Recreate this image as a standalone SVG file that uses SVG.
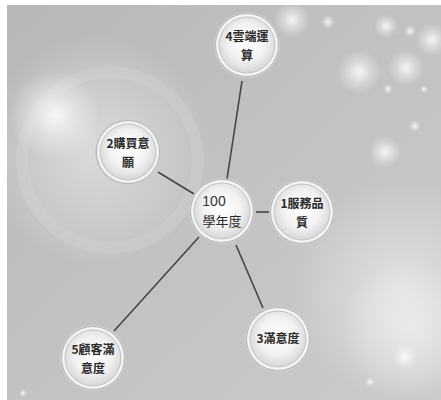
<svg xmlns="http://www.w3.org/2000/svg" width="441" height="400" viewBox="0 0 441 400">
<defs>
<linearGradient id="bg" x1="0" y1="0" x2="1" y2="1">
<stop offset="0" stop-color="#b7b7b7"/>
<stop offset="0.5" stop-color="#c2c2c2"/>
<stop offset="1" stop-color="#cbcbcb"/>
</linearGradient>
<radialGradient id="glow">
<stop offset="0" stop-color="#ffffff" stop-opacity="0.85"/>
<stop offset="0.5" stop-color="#ffffff" stop-opacity="0.35"/>
<stop offset="1" stop-color="#ffffff" stop-opacity="0"/>
</radialGradient>
<radialGradient id="soft">
<stop offset="0" stop-color="#ffffff" stop-opacity="0.45"/>
<stop offset="0.7" stop-color="#ffffff" stop-opacity="0.15"/>
<stop offset="1" stop-color="#ffffff" stop-opacity="0"/>
</radialGradient>
<radialGradient id="nodeFill" cx="0.5" cy="0.45" r="0.55">
<stop offset="0" stop-color="#ffffff"/>
<stop offset="0.6" stop-color="#f2f2f2"/>
<stop offset="1" stop-color="#d6d6d6"/>
</radialGradient>
<g id="nd">
<circle r="33" fill="#cfcfcf"/>
<circle r="31.5" fill="#f4f4f4" stroke="#b5b5b5" stroke-width="1"/>
<circle r="28" fill="url(#nodeFill)" stroke="#c2c2c2" stroke-width="1"/>
</g>
</defs>
<style>
.t{font-family:"Noto Sans CJK TC","Noto Sans CJK SC",sans-serif;font-size:12px;font-weight:bold;fill:#2a2a2a;text-anchor:middle}
.c{stroke:#454545;stroke-width:1.6;fill:none}
</style>
<rect x="0" y="0" width="441" height="400" fill="url(#bg)"/>
<g id="background">
<circle cx="95" cy="150" r="115" fill="url(#soft)"/>
<circle cx="55" cy="115" r="45" fill="url(#glow)"/>
<circle cx="110" cy="160" r="88" fill="none" stroke="#ffffff" stroke-opacity="0.1" stroke-width="12"/>
<circle cx="400" cy="290" r="110" fill="url(#soft)"/>
<circle cx="410" cy="330" r="70" fill="url(#soft)"/>
<circle cx="292" cy="20" r="18" fill="url(#glow)"/>
<circle cx="328" cy="22" r="7" fill="url(#glow)"/>
<circle cx="386" cy="26" r="12" fill="url(#glow)"/>
<circle cx="410" cy="31" r="6" fill="url(#glow)"/>
<circle cx="432" cy="40" r="16" fill="url(#glow)"/>
<circle cx="359" cy="72" r="22" fill="url(#glow)"/>
<circle cx="406" cy="68" r="18" fill="url(#glow)"/>
<circle cx="388" cy="89" r="5" fill="url(#glow)"/>
<circle cx="424" cy="89" r="4" fill="url(#glow)"/>
<circle cx="415" cy="126" r="6" fill="url(#glow)"/>
<circle cx="385" cy="152" r="16" fill="url(#glow)"/>
<circle cx="405" cy="357" r="12" fill="url(#glow)"/>
<circle cx="370" cy="382" r="5" fill="url(#glow)"/>
<circle cx="23" cy="393" r="4" fill="url(#glow)"/>
</g>
<rect x="0" y="0" width="7" height="400" fill="#ffffff"/>
<rect x="0" y="0" width="441" height="5" fill="#ffffff"/>
<g id="connectors">
<line class="c" x1="242" y1="81" x2="227" y2="179"/>
<line class="c" x1="158" y1="172" x2="194" y2="194"/>
<line class="c" x1="256" y1="212" x2="270" y2="212"/>
<line class="c" x1="236" y1="245" x2="263" y2="308"/>
<line class="c" x1="199" y1="237" x2="114" y2="331"/>
</g>
<g id="center">
<use href="#nd" x="222" y="211"/>
<text x="214" y="206" style="font-family:'Liberation Sans',Arial,sans-serif;font-size:14px;fill:#333;text-anchor:middle">100</text>
<text x="222" y="226" class="t" style="font-weight:normal;font-size:13px">學年度</text>
</g>
<g id="node4">
<use href="#nd" x="247" y="45"/>
<text x="247" y="41" class="t">4雲端運</text>
<text x="247" y="60" class="t">算</text>
</g>
<g id="node2">
<use href="#nd" x="128" y="152"/>
<text x="128" y="148" class="t">2購買意</text>
<text x="128" y="167" class="t">願</text>
</g>
<g id="node1">
<use href="#nd" x="302" y="212"/>
<text x="302" y="208" class="t">1服務品</text>
<text x="302" y="227" class="t">質</text>
</g>
<g id="node3">
<use href="#nd" x="278" y="339"/>
<text x="278" y="343" class="t">3滿意度</text>
</g>
<g id="node5">
<use href="#nd" x="93" y="358"/>
<text x="93" y="354" class="t">5顧客滿</text>
<text x="93" y="373" class="t">意度</text>
</g>
</svg>
